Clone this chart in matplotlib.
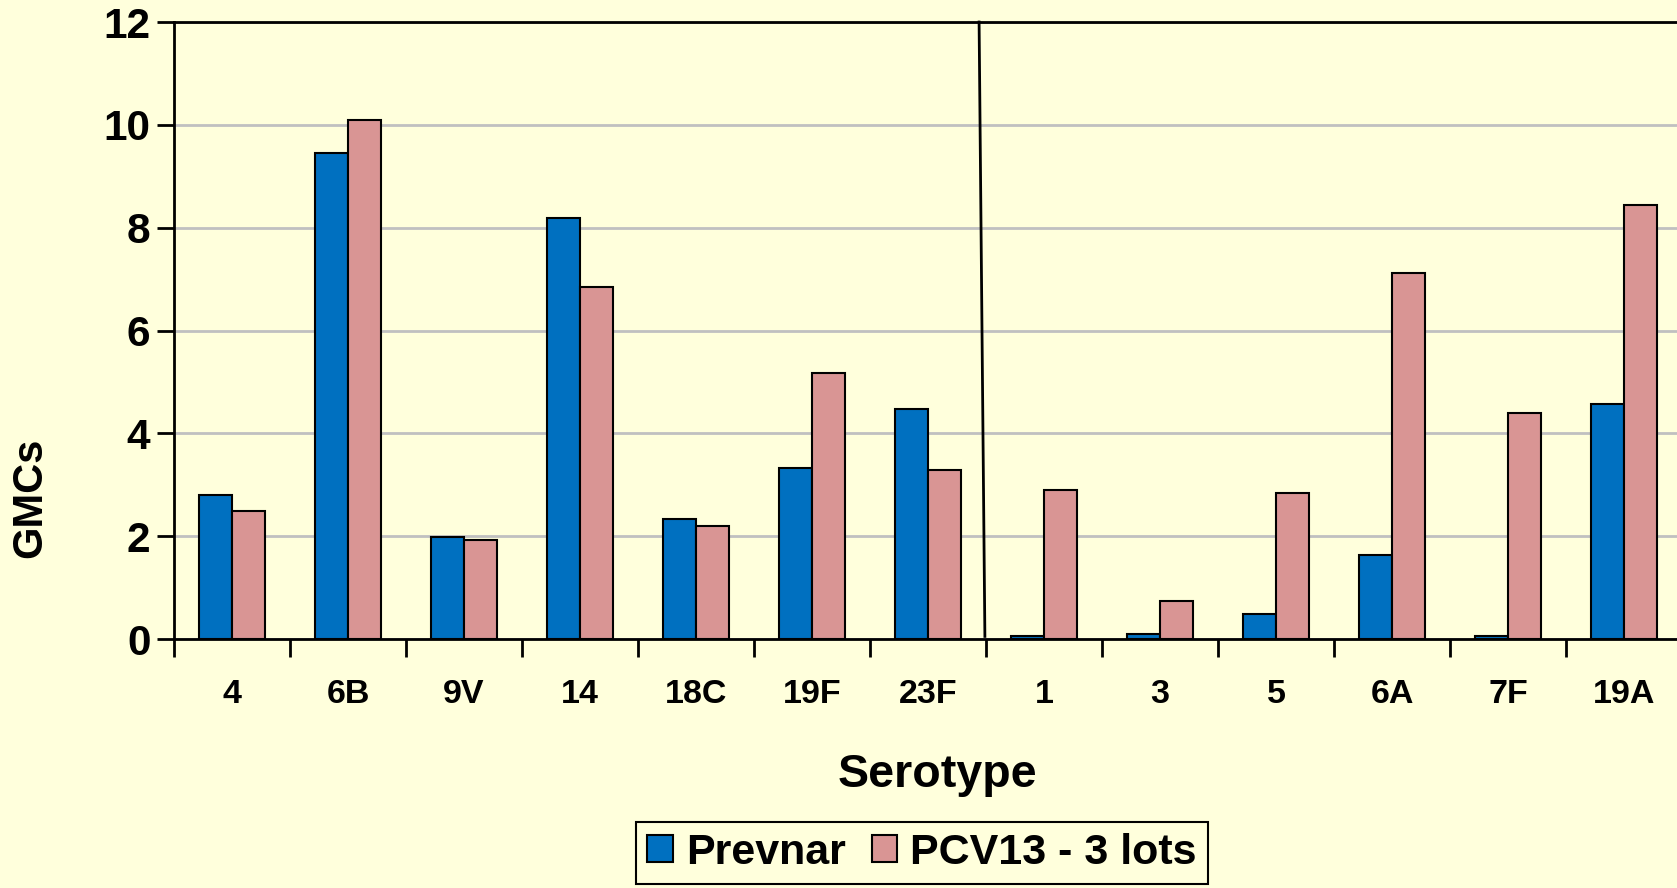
import numpy as np
import matplotlib.pyplot as plt

# Data
serotypes = ["4", "6B", "9V", "14", "18C", "19F", "23F", "1", "3", "5", "6A", "7F", "19A"]
prevnar = [2.80, 9.45, 1.99, 8.18, 2.33, 3.32, 4.48, 0.05, 0.09, 0.48, 1.64, 0.05, 4.57]
pcv13 = [2.49, 10.09, 1.93, 6.85, 2.20, 5.17, 3.28, 2.89, 0.73, 2.84, 7.12, 4.40, 8.45]
y_ticks = [0, 2, 4, 6, 8, 10, 12]

bg = "#FFFFDC"
blue = "#0070C0"
pink = "#D99594"

plt.rcParams['font.family'] = ['Liberation Sans', 'DejaVu Sans']
plt.rcParams['font.weight'] = 'bold'

fig = plt.figure(figsize=(16.77, 8.88), dpi=100, facecolor=bg)
ax = fig.add_axes([0.1038, 0.2804, 0.8992, 0.6948], facecolor=bg)

x = np.arange(len(serotypes))
w = 0.285
ax.bar(x - w / 2, prevnar, w, color=blue, edgecolor="black", linewidth=1.5, label="Prevnar", zorder=3)
ax.bar(x + w / 2, pcv13, w, color=pink, edgecolor="black", linewidth=1.5, label="PCV13 - 3 lots", zorder=3)

# Divider between the 7 original serotypes and the 6 new ones
ax.plot([6.44, 6.49], [12, 0.05], color="black", linewidth=2, zorder=4, clip_on=False)

ax.set_xlim(-0.5, len(serotypes) - 0.5)
ax.set_ylim(0, 12)
ax.set_yticks(y_ticks)
ax.set_yticklabels([str(v) for v in y_ticks], fontsize=30.5, fontweight='bold')
ax.set_xticks(x)
ax.set_xticklabels(serotypes, fontsize=24.5, fontweight='bold')
ax.set_xticks(np.arange(len(serotypes) + 1) - 0.5, minor=True)
ax.tick_params(axis='x', which='major', length=0, pad=29)
ax.tick_params(axis='x', which='minor', length=13, width=2, color="black")
ax.tick_params(axis='y', length=12, width=2, pad=5)

ax.yaxis.grid(True, color="#C0C0C0", linewidth=2, zorder=0)
ax.set_axisbelow(True)
for s in ["left", "bottom", "top"]:
    ax.spines[s].set_linewidth(2)
ax.spines["right"].set_visible(False)

fig.text(30 / 1677, 1 - 498 / 888, "GMCs", rotation=90, fontsize=30, fontweight='bold', ha='center', va='center')
fig.text(937 / 1677, 1 - 775 / 888, "Serotype", fontsize=33.5, fontweight='bold', ha='center', va='center')

leg = fig.legend(loc='upper center', bbox_to_anchor=(922 / 1677, 1 - 822 / 888), ncol=2,
                 prop={'size': 31, 'weight': 'bold'}, frameon=True, fancybox=False,
                 edgecolor="black", facecolor=bg, framealpha=1,
                 handlelength=0.6, handleheight=0.6, handletextpad=0.3, columnspacing=0.6,
                 borderpad=0.25, borderaxespad=0)
leg.get_frame().set_linewidth(1.5)

fig.savefig("out.png", dpi=100, facecolor=bg)
